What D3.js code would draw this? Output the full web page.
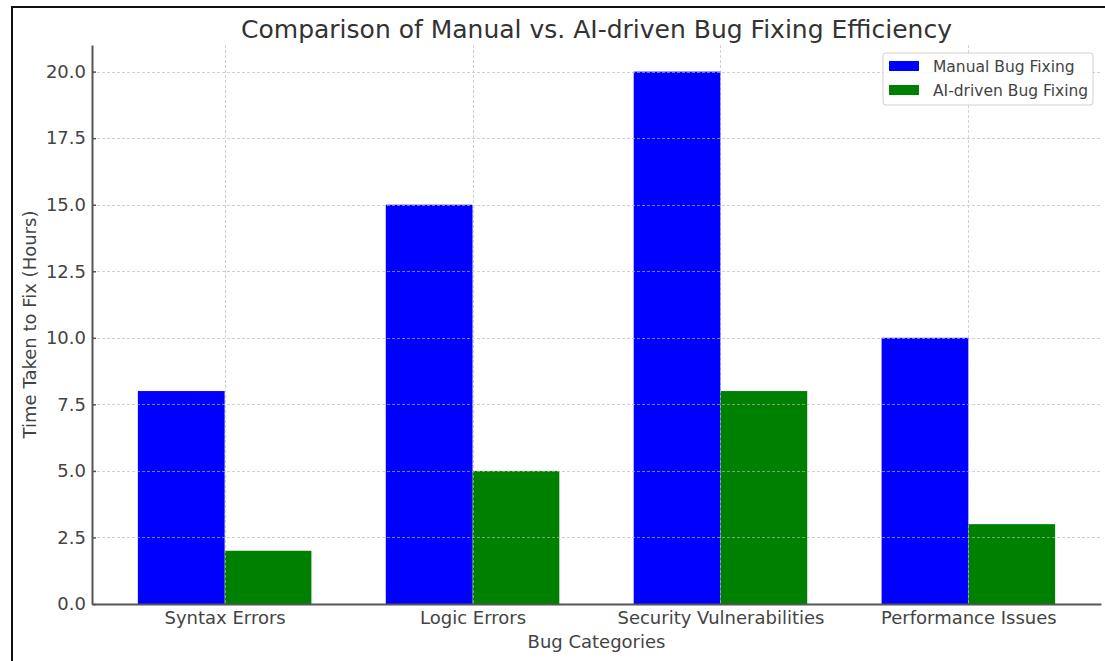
<!DOCTYPE html>
<html>
<head>
<meta charset="utf-8">
<script src="https://cdn.jsdelivr.net/npm/d3@7"></script>
<style>
  html, body { margin: 0; padding: 0; background: #fff; }
  svg { display: block; font-family: "DejaVu Sans", sans-serif; }
</style>
</head>
<body>
<svg id="chart" width="1105" height="661"></svg>
<script>
const categories = ["Syntax Errors", "Logic Errors", "Security Vulnerabilities", "Performance Issues"];
const manualValues = [8, 15, 20, 10];
const aiValues = [2, 5, 8, 3];
const seriesNames = ["Manual Bug Fixing", "AI-driven Bug Fixing"];
const seriesColors = ["#0000ff", "#008000"];
const yTicks = [0, 2.5, 5, 7.5, 10, 12.5, 15, 17.5, 20];

const svg = d3.select("#chart");
const plotLeft = 92, plotRight = 1101, plotTop = 45, plotBottom = 604;
const barW = 0.35;

const x = d3.scaleLinear().domain([-0.535, 3.535]).range([plotLeft, plotRight]);
const y = d3.scaleLinear().domain([0, 21]).range([plotBottom, plotTop]);

// outer frame
svg.append("line").attr("x1", 11).attr("x2", 1105).attr("y1", 7).attr("y2", 7)
  .attr("stroke", "#111").attr("stroke-width", 2);
svg.append("line").attr("x1", 12).attr("x2", 12).attr("y1", 6).attr("y2", 661)
  .attr("stroke", "#111").attr("stroke-width", 2);

// bars
const series = [manualValues, aiValues];
series.forEach((vals, s) => {
  svg.append("g").selectAll("rect").data(vals).enter().append("rect")
    .attr("x", (d, i) => x(i + (s === 0 ? -barW : 0)))
    .attr("width", x(barW) - x(0))
    .attr("y", d => y(d))
    .attr("height", d => y(0) - y(d))
    .attr("fill", seriesColors[s]);
});

// grid
const grid = svg.append("g").attr("stroke", "#b8b8b8").attr("stroke-width", 1)
  .attr("stroke-dasharray", "3,2").attr("opacity", 0.65);
yTicks.forEach(t => {
  grid.append("line").attr("x1", plotLeft).attr("x2", plotRight)
    .attr("y1", Math.round(y(t)) + 0.5).attr("y2", Math.round(y(t)) + 0.5);
});
categories.forEach((c, i) => {
  grid.append("line").attr("y1", plotTop).attr("y2", plotBottom)
    .attr("x1", Math.round(x(i)) + 0.5).attr("x2", Math.round(x(i)) + 0.5);
});

// axes
const yAxis = d3.axisLeft(y).tickValues(yTicks).tickFormat(d3.format(".1f")).tickSizeInner(-4).tickSizeOuter(0).tickPadding(6);
const gy = svg.append("g").attr("transform", `translate(${plotLeft},0)`).call(yAxis);
gy.select(".domain").attr("stroke", "#555").attr("stroke-width", 2);
gy.selectAll(".tick line").attr("stroke", "#555").attr("stroke-width", 1.5);
gy.selectAll(".tick text").attr("fill", "#444").attr("font-size", 18).attr("font-family", "DejaVu Sans");

const xAxis = d3.axisBottom(x).tickValues(d3.range(categories.length)).tickFormat(i => categories[i]).tickSize(0).tickPadding(7);
const gx = svg.append("g").attr("transform", `translate(0,${plotBottom})`).call(xAxis);
gx.select(".domain").attr("stroke", "#555").attr("stroke-width", 2);
gx.selectAll(".tick text").attr("fill", "#444").attr("font-size", 18).attr("font-family", "DejaVu Sans");

// title & labels
svg.append("text").attr("x", (plotLeft + plotRight) / 2).attr("y", 38).attr("text-anchor", "middle")
  .attr("font-size", 25).attr("fill", "#333").text("Comparison of Manual vs. AI-driven Bug Fixing Efficiency");
svg.append("text").attr("x", (plotLeft + plotRight) / 2).attr("y", 648).attr("text-anchor", "middle")
  .attr("font-size", 18).attr("fill", "#444").text("Bug Categories");
svg.append("text").attr("transform", `translate(36,${(plotTop + plotBottom) / 2}) rotate(-90)`).attr("text-anchor", "middle")
  .attr("font-size", 18).attr("fill", "#444").text("Time Taken to Fix (Hours)");

// legend
const lg = svg.append("g");
lg.append("rect").attr("x", 883).attr("y", 53).attr("width", 210).attr("height", 52).attr("rx", 3)
  .attr("fill", "#fff").attr("fill-opacity", 0.85).attr("stroke", "#d0d0d0");
seriesNames.forEach((n, i) => {
  lg.append("rect").attr("x", 889).attr("y", 61 + i * 24).attr("width", 30).attr("height", 10).attr("fill", seriesColors[i]);
  lg.append("text").attr("x", 933).attr("y", 72 + i * 24).attr("font-size", 15.5).attr("fill", "#444").text(n);
});
</script>
</body>
</html>
